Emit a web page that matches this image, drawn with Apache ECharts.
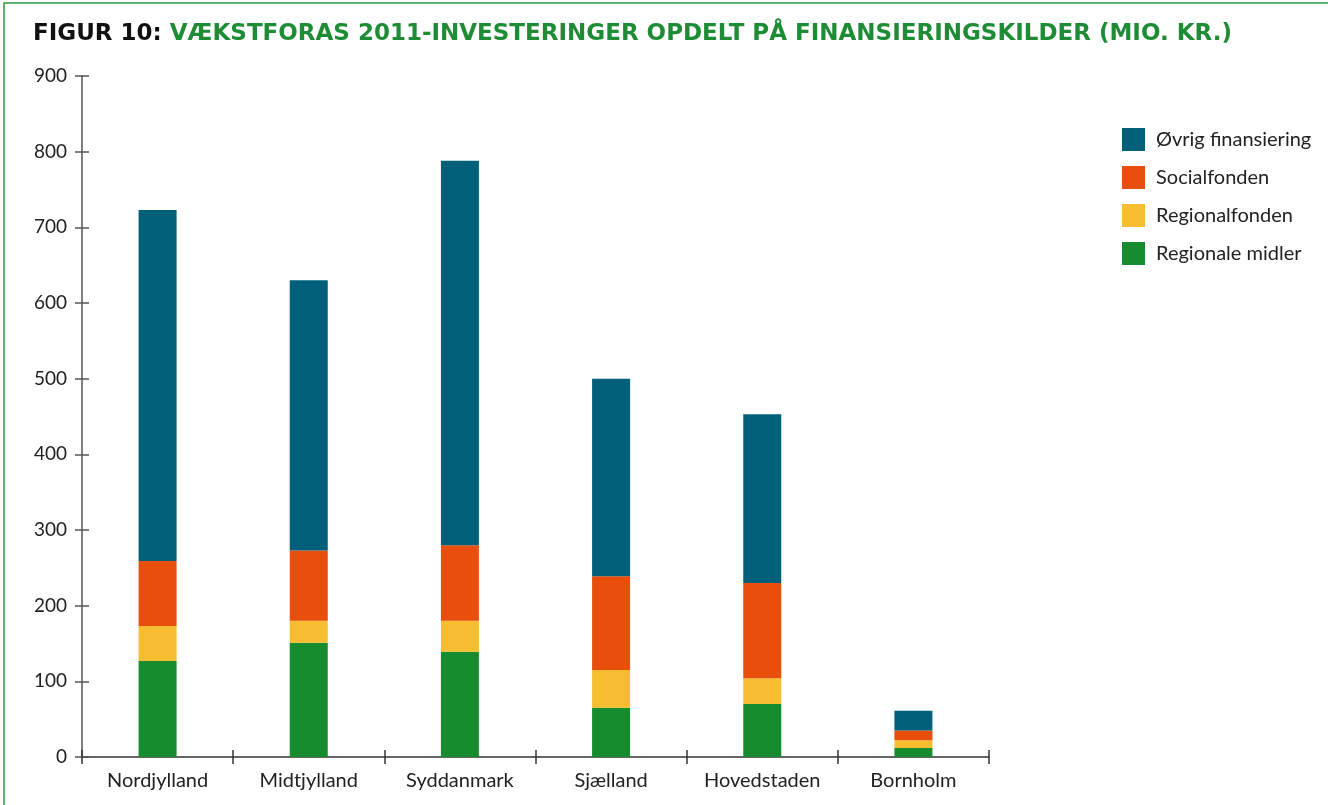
<!DOCTYPE html>
<html>
<head>
<meta charset="utf-8">
<script src="https://cdn.jsdelivr.net/npm/echarts@6/dist/echarts.min.js"></script>
<style>
  html, body { margin: 0; padding: 0; background: #fff; }
  #chart { width: 1328px; height: 805px; }
</style>
</head>
<body>
<div id="chart"></div>
<script>
  // regioner og finansieringskilder (mio. kr.)
  const regions = ['Nordjylland', 'Midtjylland', 'Syddanmark', 'Sjælland', 'Hovedstaden', 'Bornholm']
  const regionaleMidler = [127, 151, 139, 65, 70, 12]
  const regionalfonden = [46, 29, 41, 50, 34, 10]
  const socialfonden = [86, 93, 100, 124, 126, 13]
  const ovrigFinansiering = [464, 357, 508, 261, 223, 26]
  const yTicks = [0, 100, 200, 300, 400, 500, 600, 700, 800, 900]

  const font = 'Lato'
  const titleFont = 'DejaVu Sans'
  const axisColor = '#555'

  let myChart = echarts.init(document.getElementById('chart'))

  function barSeries(name, data, color) {
    return {
      name: name,
      type: 'bar',
      stack: 'total',
      barWidth: 38,
      itemStyle: { color: color },
      data: data
    }
  }

  myChart.setOption({
    animation: false,
    textStyle: { fontFamily: font },
    title: {
      left: 28,
      top: 18,
      text: '{a|FIGUR 10: }{b|VÆKSTFORAS 2011-INVESTERINGER OPDELT PÅ FINANSIERINGSKILDER (MIO. KR.)}',
      textStyle: {
        rich: {
          a: { fontFamily: titleFont, fontWeight: 'bold', fontSize: 23, color: '#111' },
          b: { fontFamily: titleFont, fontWeight: 'bold', fontSize: 23, color: '#1d8c35' }
        }
      }
    },
    graphic: [{
      type: 'rect',
      shape: { x: 4, y: 3, width: 1340, height: 820 },
      style: { fill: 'none', stroke: '#2a9a40', lineWidth: 1.5 },
      silent: true
    }],
    legend: {
      orient: 'vertical',
      left: 1117,
      top: 123,
      itemWidth: 23,
      itemHeight: 23,
      itemGap: 15,
      icon: 'rect',
      data: ['Øvrig finansiering', 'Socialfonden', 'Regionalfonden', 'Regionale midler'],
      textStyle: { fontFamily: font, fontSize: 20, color: '#222', padding: [0, 0, 0, 6] }
    },
    grid: {
      left: 82,
      right: 1328 - 989,
      top: 76,
      bottom: 805 - 757,
      containLabel: false
    },
    xAxis: [{
      type: 'category',
      data: regions,
      axisLine: { lineStyle: { color: '#333', width: 1.5 } },
      axisTick: { show: true, length: 7, lineStyle: { color: '#333', width: 1.5 } },
      axisLabel: { interval: 0, fontFamily: font, fontSize: 20, color: '#222', margin: 14 }
    }, {
      type: 'category',
      data: regions,
      position: 'bottom',
      axisLine: { show: false },
      axisTick: { show: true, inside: true, length: 7, lineStyle: { color: '#333', width: 1.5 } },
      axisLabel: { show: false }
    }],
    yAxis: [{
      type: 'value',
      min: yTicks[0],
      max: yTicks[yTicks.length - 1],
      interval: 100,
      splitLine: { show: false },
      axisLine: { show: true, lineStyle: { color: axisColor, width: 1.5 } },
      axisTick: { show: true, length: 7, lineStyle: { color: axisColor, width: 1.5 } },
      axisLabel: { fontFamily: font, fontSize: 19, color: '#222', margin: 15 }
    }, {
      type: 'value',
      min: yTicks[0],
      max: yTicks[yTicks.length - 1],
      interval: 100,
      position: 'left',
      splitLine: { show: false },
      axisLine: { show: false },
      axisTick: { show: true, inside: true, length: 7, lineStyle: { color: axisColor, width: 1.5 } },
      axisLabel: { show: false }
    }],
    series: [
      barSeries('Regionale midler', regionaleMidler, '#178c2f'),
      barSeries('Regionalfonden', regionalfonden, '#f6bd30'),
      barSeries('Socialfonden', socialfonden, '#e84e0c'),
      barSeries('Øvrig finansiering', ovrigFinansiering, '#00607a')
    ]
  })
</script>
</body>
</html>
